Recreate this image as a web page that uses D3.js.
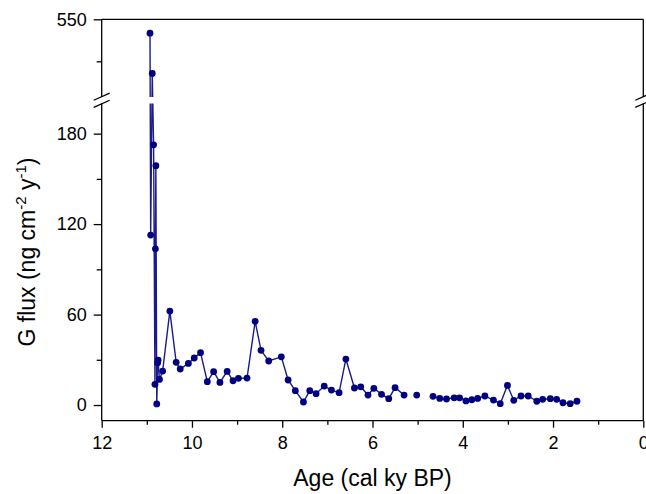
<!DOCTYPE html>
<html>
<head>
  <meta charset="utf-8">
  <script src="https://cdn.jsdelivr.net/npm/d3@7"></script>
  <style>
    body, html {
      margin: 0;
      padding: 0;
      background: white;
      overflow: hidden;
    }
    svg text {
      font-family: 'Liberation Sans', Arial, sans-serif;
      fill: black;
    }
    .axis path, .axis line {
      stroke: black;
      stroke-width: 1.3;
    }
  </style>
</head>
<body>
  <svg id="chart" width="646" height="494"></svg>

  <script>
    // age (cal ky BP) and G flux, null = no sample (line is broken there)
    const ages = [
      10.93, 10.915, 10.88, 10.85, 10.82, 10.81, 10.80, 10.78, 10.76, 10.75,
      10.72, 10.65, 10.49, 10.35, 10.26, 10.08, 9.95, 9.81, 9.66, 9.52,
      9.38, 9.22, 9.09, 8.97, 8.78, 8.60, 8.47, 8.30, 8.02, 7.87,
      7.71, 7.53, 7.39, 7.25, 7.07, 6.91, 6.74, 6.59, 6.40, 6.26,
      6.10, 5.97, 5.80, 5.64, 5.50, 5.30, null, 5.02, null, 4.66,
      4.51, 4.36, 4.19, 4.07, 3.93, 3.80, 3.67, 3.51, 3.32, 3.17,
      3.01, 2.87, 2.71, 2.55, 2.36, 2.23, 2.06, 1.92, 1.78, 1.62,
      1.47
    ];
    const flux = [
      517, 112.7, 421, 172.6, 13.7, 103.6, 158.7, 0.7, 28, 29.8,
      17, 22.5, 62.3, 28.3, 23.9, 27.6, 31.2, 34.7, 15.5, 22.1,
      15, 22.3, 16.1, 17.7, 17.9, 55.5, 36.3, 29.2, 32, 16.6,
      9.5, 2.0, 9.5, 7.5, 12.6, 9.9, 8.2, 30.5, 11.3, 12.1,
      6.6, 11.1, 7.1, 4.2, 11.5, 6.6, null, 6.6, null, 5.8,
      4.4, 4.0, 4.8, 4.8, 2.7, 3.5, 4.4, 6.0, 3.3, 0.9,
      13, 3.1, 6.0, 6.0, 2.5, 3.8, 4.2, 3.8, 1.5, 0.9,
      2.5
    ];

    const xTicks = [12, 10, 8, 6, 4, 2, 0];
    const xMinor = [11, 9, 7, 5, 3, 1];
    const yLowTicks = [0, 60, 120, 180];
    const yLowMinor = [30, 90, 150];
    const yHighTicks = [550];
    const yHighMinor = [450];

    const svg = d3.select('#chart');

    const plotLeft = 101.7, plotRight = 643.3, plotTop = 19.3, plotBottom = 420.7;
    const breakTop = 97, breakBottom = 103.5;

    const x = d3.scaleLinear().domain([12, 0]).range([plotLeft, plotRight]);
    const yLow = d3.scaleLinear().domain([-10.4, 200]).range([plotBottom, breakBottom]);
    const yHigh = d3.scaleLinear().domain([365, 550]).range([breakTop, plotTop]);

    // piecewise y for the broken axis
    function y(v) {
      if (v <= 200) return yLow(v);
      if (v >= 365) return yHigh(v);
      return breakBottom + (v - 200) / (365 - 200) * (breakTop - breakBottom);
    }

    const data = ages.map((a, i) => ({ age: a, v: flux[i] }));

    // line
    const line = d3.line()
      .defined(d => d.age !== null && d.v !== null)
      .x(d => x(d.age))
      .y(d => y(d.v));

    svg.append('path')
      .datum(data)
      .attr('d', line)
      .attr('fill', 'none')
      .attr('stroke', '#1a1a8c')
      .attr('stroke-width', 1.4);

    svg.selectAll('.dot')
      .data(data.filter(d => d.age !== null))
      .join('circle')
      .attr('class', 'dot')
      .attr('cx', d => x(d.age))
      .attr('cy', d => y(d.v))
      .attr('r', 3.4)
      .attr('fill', '#000080');

    // white gap across the break
    svg.append('rect')
      .attr('x', plotLeft - 2)
      .attr('y', breakTop)
      .attr('width', plotRight - plotLeft + 6)
      .attr('height', breakBottom - breakTop)
      .attr('fill', 'white');

    // x axis
    svg.append('g')
      .attr('class', 'axis')
      .attr('transform', `translate(0,${plotBottom})`)
      .call(d3.axisBottom(x).tickValues(xTicks).tickSize(7).tickPadding(9).tickFormat(d3.format('d')))
      .call(g => g.select('.domain').remove())
      .selectAll('text').style('font-size', '18px');

    svg.append('g')
      .attr('class', 'axis')
      .attr('transform', `translate(0,${plotBottom})`)
      .call(d3.axisBottom(x).tickValues(xMinor).tickSize(4).tickFormat(''))
      .call(g => g.select('.domain').remove());

    // y axis, lower part
    svg.append('g')
      .attr('class', 'axis')
      .attr('transform', `translate(${plotLeft},0)`)
      .call(d3.axisLeft(yLow).tickValues(yLowTicks).tickSize(8).tickPadding(7))
      .call(g => g.select('.domain').remove())
      .selectAll('text').style('font-size', '18px');

    svg.append('g')
      .attr('class', 'axis')
      .attr('transform', `translate(${plotLeft},0)`)
      .call(d3.axisLeft(yLow).tickValues(yLowMinor).tickSize(5).tickFormat(''))
      .call(g => g.select('.domain').remove());

    // y axis, upper part
    svg.append('g')
      .attr('class', 'axis')
      .attr('transform', `translate(${plotLeft},0)`)
      .call(d3.axisLeft(yHigh).tickValues(yHighTicks).tickSize(8).tickPadding(7))
      .call(g => g.select('.domain').remove())
      .selectAll('text').style('font-size', '18px');

    svg.append('g')
      .attr('class', 'axis')
      .attr('transform', `translate(${plotLeft},0)`)
      .call(d3.axisLeft(yHigh).tickValues(yHighMinor).tickSize(5).tickFormat(''))
      .call(g => g.select('.domain').remove());

    // frame lines, broken at the axis break
    const frame = svg.append('g')
      .attr('stroke', 'black')
      .attr('stroke-width', 1.3)
      .attr('fill', 'none');

    frame.append('path').attr('d', `M${plotLeft},${plotTop} L${plotRight},${plotTop}`);
    frame.append('path').attr('d', `M${plotLeft},${plotTop} L${plotLeft},${breakTop} M${plotLeft},${breakBottom} L${plotLeft},${plotBottom}`);
    frame.append('path').attr('d', `M${plotRight},${plotTop} L${plotRight},${breakTop} M${plotRight},${breakBottom} L${plotRight},${plotBottom}`);
    frame.append('path').attr('d', `M${plotLeft},${plotBottom} L${plotRight},${plotBottom}`);

    // break marks "//"
    [plotLeft, plotRight].forEach(bx => {
      const cy = (breakTop + breakBottom) / 2;
      [-3.6, 3.6].forEach(off => {
        frame.append('line')
          .attr('x1', bx - 8).attr('y1', cy + off + 3.6)
          .attr('x2', bx + 8).attr('y2', cy + off - 3.6);
      });
    });

    // titles
    svg.append('text')
      .attr('x', (plotLeft + plotRight) / 2)
      .attr('y', 486)
      .attr('text-anchor', 'middle')
      .style('font-size', '23px')
      .text('Age (cal ky BP)');

    const yTitle = svg.append('text')
      .attr('transform', `translate(35,${(plotTop + plotBottom) / 2 + 32}) rotate(-90)`)
      .attr('text-anchor', 'middle')
      .style('font-size', '23px');
    yTitle.append('tspan').text('G flux (ng cm');
    yTitle.append('tspan').attr('dy', -9).style('font-size', '15px').text('-2');
    yTitle.append('tspan').attr('dy', 9).text(' y');
    yTitle.append('tspan').attr('dy', -9).style('font-size', '15px').text('-1');
    yTitle.append('tspan').attr('dy', 9).text(')');
  </script>
</body>
</html>
